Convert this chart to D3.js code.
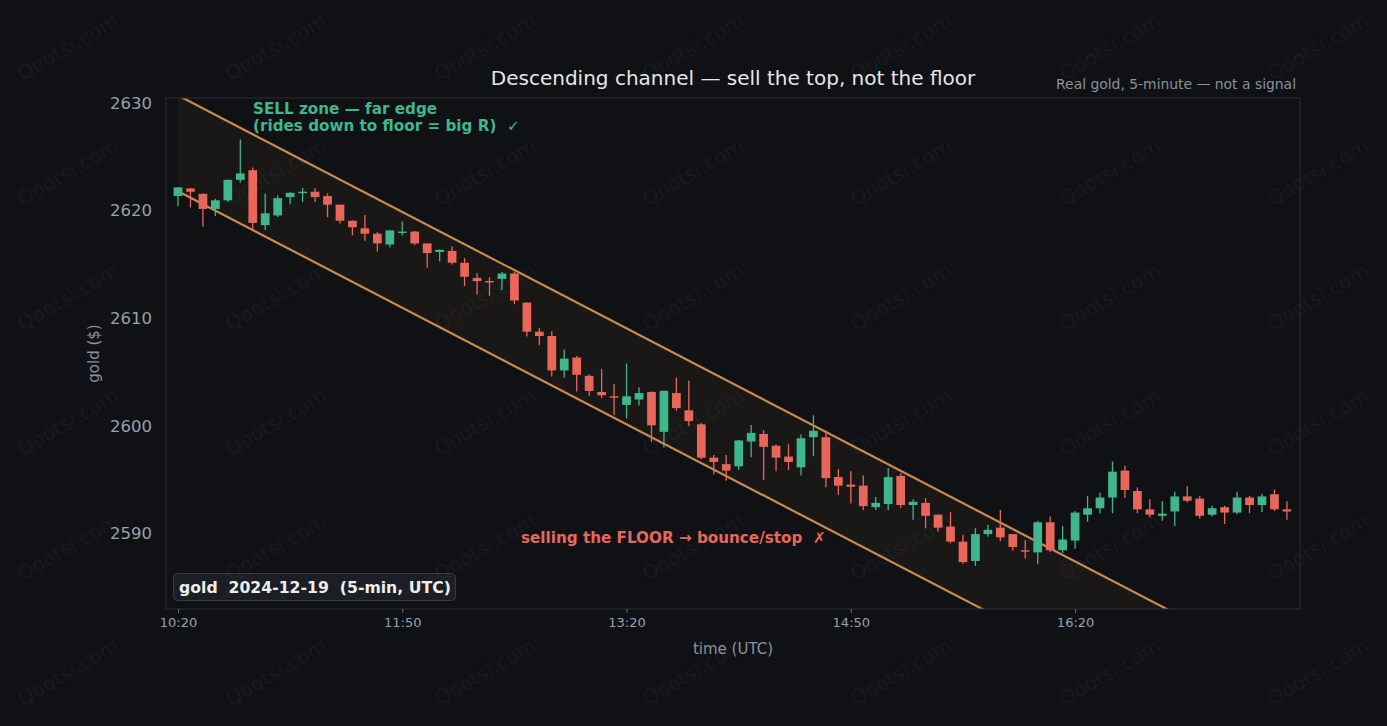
<!DOCTYPE html>
<html>
<head>
  <title>Descending channel</title>
  <style>
    html, body { margin: 0; padding: 0; background: #0f1115; }
    svg { display: block; font-family: "DejaVu Sans", sans-serif; }
  </style>
</head>
<body>
<svg width="1387" height="726"></svg>
<script src="https://d3js.org/d3.v7.min.js"></script>
<script>

  // 5-minute bars, 2024-12-19 from 10:20 UTC
  var startTime = "2024-12-19T10:20:00Z"
  var opens = [
    2621.3, 2622.0, 2621.5, 2620.1, 2620.9, 2622.8, 2623.7, 2618.6, 2619.5, 2621.2,
    2621.6, 2621.7, 2621.3, 2620.5, 2619.0, 2618.3, 2617.8, 2616.8, 2617.9, 2618.0,
    2616.9, 2616.1, 2616.2, 2615.1, 2613.7, 2613.4, 2613.6, 2614.1, 2611.4, 2608.7,
    2608.3, 2605.1, 2606.3, 2604.6, 2603.1, 2602.7, 2601.9, 2602.4, 2603.1, 2599.4,
    2603.0, 2601.4, 2600.1, 2597.0, 2596.4, 2596.2, 2598.5, 2599.2, 2598.1, 2597.1,
    2596.1, 2598.9, 2598.9, 2595.2, 2594.5, 2594.4, 2592.4, 2592.7, 2595.3, 2592.6,
    2592.8, 2591.7, 2590.6, 2589.2, 2587.4, 2589.9, 2590.5, 2589.9, 2588.4, 2588.2,
    2591.0, 2588.4, 2589.3, 2591.7, 2592.3, 2593.3, 2595.8, 2593.9, 2592.2, 2591.6,
    2592.0, 2593.4, 2593.2, 2591.7, 2592.4, 2591.9, 2593.3, 2592.6, 2593.6, 2592.2]
  var highs = [
    2622.2, 2622.1, 2621.6, 2621.1, 2622.9, 2626.6, 2624.0, 2621.6, 2621.4, 2621.7,
    2622.1, 2622.1, 2621.6, 2620.5, 2619.1, 2619.6, 2618.0, 2618.2, 2619.0, 2618.1,
    2616.9, 2616.4, 2616.7, 2615.6, 2614.2, 2613.8, 2614.3, 2614.3, 2611.5, 2609.1,
    2608.8, 2607.1, 2606.5, 2604.8, 2605.3, 2603.9, 2605.8, 2603.6, 2603.2, 2603.3,
    2604.5, 2604.2, 2600.3, 2597.3, 2597.3, 2598.7, 2600.1, 2599.6, 2598.3, 2598.3,
    2599.2, 2601.0, 2599.6, 2596.0, 2595.8, 2595.4, 2593.4, 2596.1, 2595.6, 2593.2,
    2593.3, 2591.8, 2592.0, 2589.9, 2590.5, 2590.8, 2592.2, 2589.9, 2589.4, 2591.2,
    2591.6, 2590.7, 2592.1, 2593.5, 2593.8, 2596.7, 2596.3, 2594.3, 2593.2, 2593.0,
    2593.9, 2594.4, 2593.5, 2592.6, 2592.6, 2593.9, 2593.5, 2593.7, 2594.1, 2593.0]
  var lows = [
    2620.4, 2620.3, 2618.5, 2619.5, 2620.8, 2622.6, 2618.2, 2618.2, 2619.4, 2620.6,
    2620.8, 2620.8, 2619.4, 2618.8, 2617.7, 2617.2, 2616.2, 2616.6, 2617.7, 2616.8,
    2614.7, 2615.3, 2615.0, 2613.0, 2612.2, 2612.1, 2612.6, 2611.3, 2608.3, 2607.5,
    2604.6, 2604.5, 2603.2, 2602.8, 2602.6, 2601.0, 2600.7, 2601.9, 2598.5, 2598.0,
    2601.4, 2600.0, 2596.9, 2595.5, 2594.9, 2595.9, 2597.1, 2595.0, 2595.8, 2595.9,
    2595.4, 2597.2, 2594.3, 2593.6, 2592.8, 2592.2, 2592.2, 2592.2, 2592.4, 2591.3,
    2590.5, 2590.2, 2589.1, 2587.2, 2587.0, 2589.7, 2589.3, 2588.4, 2587.7, 2587.2,
    2588.3, 2588.2, 2588.6, 2591.1, 2591.9, 2591.9, 2593.3, 2591.9, 2591.5, 2591.2,
    2590.7, 2592.9, 2591.4, 2591.6, 2590.9, 2591.8, 2591.9, 2592.0, 2592.1, 2591.3]
  var closes = [
    2622.1, 2621.7, 2620.1, 2620.9, 2622.8, 2623.4, 2618.8, 2619.7, 2621.1, 2621.6,
    2621.7, 2621.2, 2620.5, 2619.0, 2618.4, 2617.8, 2616.9, 2618.1, 2618.0, 2616.9,
    2616.0, 2616.3, 2615.1, 2613.8, 2613.4, 2613.3, 2614.1, 2611.6, 2608.7, 2608.3,
    2605.1, 2606.2, 2604.7, 2603.2, 2602.8, 2602.6, 2602.7, 2603.0, 2600.0, 2603.2,
    2601.6, 2600.4, 2597.0, 2596.6, 2595.8, 2598.6, 2599.3, 2598.0, 2597.0, 2596.6,
    2598.8, 2599.5, 2595.1, 2594.4, 2594.3, 2592.5, 2592.8, 2595.2, 2592.6, 2592.9,
    2591.6, 2590.5, 2589.2, 2587.3, 2589.9, 2590.3, 2589.6, 2588.7, 2588.3, 2591.0,
    2588.4, 2589.4, 2591.9, 2592.3, 2593.3, 2595.7, 2594.0, 2592.2, 2591.7, 2591.8,
    2593.4, 2593.0, 2591.6, 2592.3, 2591.9, 2593.3, 2592.6, 2593.4, 2592.2, 2592.0]

  // channel end points (first bar, last bar)
  var channelBars = [0, 89]
  var channelTop = [2630.7, 2577.2]
  var channelFloor = [2621.8, 2568.3]

  var yTicks = [2590, 2600, 2610, 2620, 2630]
  var xTickLabels = ["10:20", "11:50", "13:20", "14:50", "16:20"]

  var green = "#3fb68b", red = "#e8675a", chanColor = "#c98a4b"
  var NB = "\u00A0"

  var svg = d3.select("svg"),
    margin = {top: 98, right: 87, bottom: 117, left: 166},
    width = +svg.attr("width") - margin.left - margin.right,
    height = +svg.attr("height") - margin.top - margin.bottom,
    g = svg.append("g").attr("transform", "translate(" + margin.left + "," + margin.top + ")");

  var t0 = new Date(startTime)
  function barTime(i) {
    return new Date(t0.getTime() + i * 5 * 60000)
  }
  var bars = opens.map(function (o, i) {
    return {t: barTime(i), o: o, h: highs[i], l: lows[i], c: closes[i]}
  })

  var x = d3.scaleUtc()
    .domain([barTime(-0.963), barTime(90.05)])
    .range([0, width]);

  var y = d3.scaleLinear()
    .domain([2583.0, 2630.46])
    .range([height, 0]);

  var barW = (x(barTime(1)) - x(barTime(0))) * 0.7

  svg.append("defs").append("clipPath").attr("id", "plotClip")
    .append("rect").attr("width", width).attr("height", height)

  // channel
  var chan = g.append("g").attr("clip-path", "url(#plotClip)")
  var chanPts = channelBars.map(function (b, k) {
    return {t: barTime(b), top: channelTop[k], floor: channelFloor[k]}
  })
  chan.append("path")
    .datum(chanPts)
    .attr("fill", "#1a1817")
    .attr("d", d3.area()
      .x(function (d) { return x(d.t) })
      .y0(function (d) { return y(d.floor) })
      .y1(function (d) { return y(d.top) }))
  ;["top", "floor"].forEach(function (k) {
    chan.append("path")
      .datum(chanPts)
      .attr("fill", "none")
      .attr("stroke", chanColor)
      .attr("stroke-width", 2.2)
      .attr("d", d3.line()
        .x(function (d) { return x(d.t) })
        .y(function (d) { return y(d[k]) }))
  })

  // candles
  var candle = g.append("g").selectAll("g")
    .data(bars)
    .enter().append("g")
    .attr("fill", function (d) { return d.c >= d.o ? green : red })
    .attr("stroke", function (d) { return d.c >= d.o ? green : red })

  candle.append("line")
    .attr("x1", function (d) { return x(d.t) })
    .attr("x2", function (d) { return x(d.t) })
    .attr("y1", function (d) { return y(d.h) })
    .attr("y2", function (d) { return y(d.l) })
    .attr("stroke-width", 1.3)

  candle.append("rect")
    .attr("stroke", "none")
    .attr("x", function (d) { return x(d.t) - barW / 2 })
    .attr("width", barW)
    .attr("y", function (d) { return Math.min(y(d.o), y(d.c)) - 0.6 })
    .attr("height", function (d) { return Math.max(1.4, Math.abs(y(d.o) - y(d.c))) })

  // frame
  g.append("rect")
    .attr("width", width).attr("height", height)
    .attr("fill", "none").attr("stroke", "#2b2f36").attr("stroke-width", 1)

  // axes
  var yAxis = g.append("g")
    .call(d3.axisLeft(y).tickValues(yTicks).tickSize(0).tickPadding(14).tickFormat(d3.format("d")))
  yAxis.select(".domain").remove()
  yAxis.selectAll("text").attr("fill", "#9aa0a8").style("font-size", "16.5px").style("font-family", "DejaVu Sans")

  var parseHM = d3.utcParse("%Y-%m-%d %H:%M")
  var xAxis = g.append("g")
    .attr("transform", "translate(0," + height + ")")
    .call(d3.axisBottom(x)
      .tickValues(xTickLabels.map(function (s) { return parseHM("2024-12-19 " + s) }))
      .tickFormat(d3.utcFormat("%H:%M"))
      .tickSize(4).tickPadding(5))
  xAxis.select(".domain").remove()
  xAxis.selectAll("line").attr("stroke", "#6b717b")
  xAxis.selectAll("text").attr("fill", "#9aa0a8").style("font-size", "13px").style("font-family", "DejaVu Sans")

  svg.append("text")
    .attr("transform", "translate(99," + (margin.top + height / 2) + ") rotate(-90)")
    .attr("text-anchor", "middle")
    .attr("fill", "#8b929c")
    .style("font-size", "15px")
    .text("gold ($)")

  svg.append("text")
    .attr("x", margin.left + width / 2).attr("y", 654)
    .attr("text-anchor", "middle")
    .attr("fill", "#8b929c")
    .style("font-size", "15px")
    .text("time (UTC)")

  // titles
  svg.append("text")
    .attr("x", margin.left + width / 2).attr("y", 85)
    .attr("text-anchor", "middle")
    .attr("fill", "#e6e6e6")
    .style("font-size", "20px")
    .text("Descending channel — sell the top, not the floor")

  svg.append("text")
    .attr("x", 1296).attr("y", 89)
    .attr("text-anchor", "end")
    .attr("fill", "#8b929c")
    .style("font-size", "13.9px")
    .text("Real gold, 5-minute — not a signal")

  // annotations
  var sell = svg.append("text")
    .attr("x", 253).attr("y", 114)
    .attr("fill", green)
    .style("font-size", "15.2px").style("font-weight", "bold")
  sell.append("tspan").attr("x", 253).text("SELL zone — far edge")
  sell.append("tspan").attr("x", 253).attr("dy", 17).text("(rides down to floor = big R)" + NB + NB + "✓")

  svg.append("text")
    .attr("x", 521).attr("y", 543)
    .attr("fill", red)
    .style("font-size", "15.2px").style("font-weight", "bold")
    .text("selling the FLOOR → bounce/stop" + NB + NB + "✗")

  // legend box
  svg.append("rect")
    .attr("x", 173.5).attr("y", 573.5).attr("width", 282).attr("height", 27).attr("rx", 4)
    .attr("fill", "#1b1e24").attr("stroke", "#353a43")
  svg.append("text")
    .attr("x", 179).attr("y", 592.5)
    .attr("fill", "#eeeeee")
    .style("font-size", "15.7px").style("font-weight", "bold")
    .text("gold" + NB + NB + "2024-12-19" + NB + NB + "(5-min, UTC)")

  // watermark
  var wmX = [68, 276, 485, 693, 901, 1110, 1318]
  var wmY = [47, 172, 297, 422, 547, 672]
  var wm = svg.append("g").attr("fill", "#ffffff").attr("fill-opacity", 0.055)
    .style("font-size", "20px")
  wmY.forEach(function (yy) {
    wmX.forEach(function (xx) {
      wm.append("text")
        .attr("transform", "translate(" + xx + "," + yy + ") rotate(-30)")
        .attr("text-anchor", "middle").attr("dy", "0.35em")
        .text("Qootsi.com")
    })
  })

</script>
</body>
</html>
